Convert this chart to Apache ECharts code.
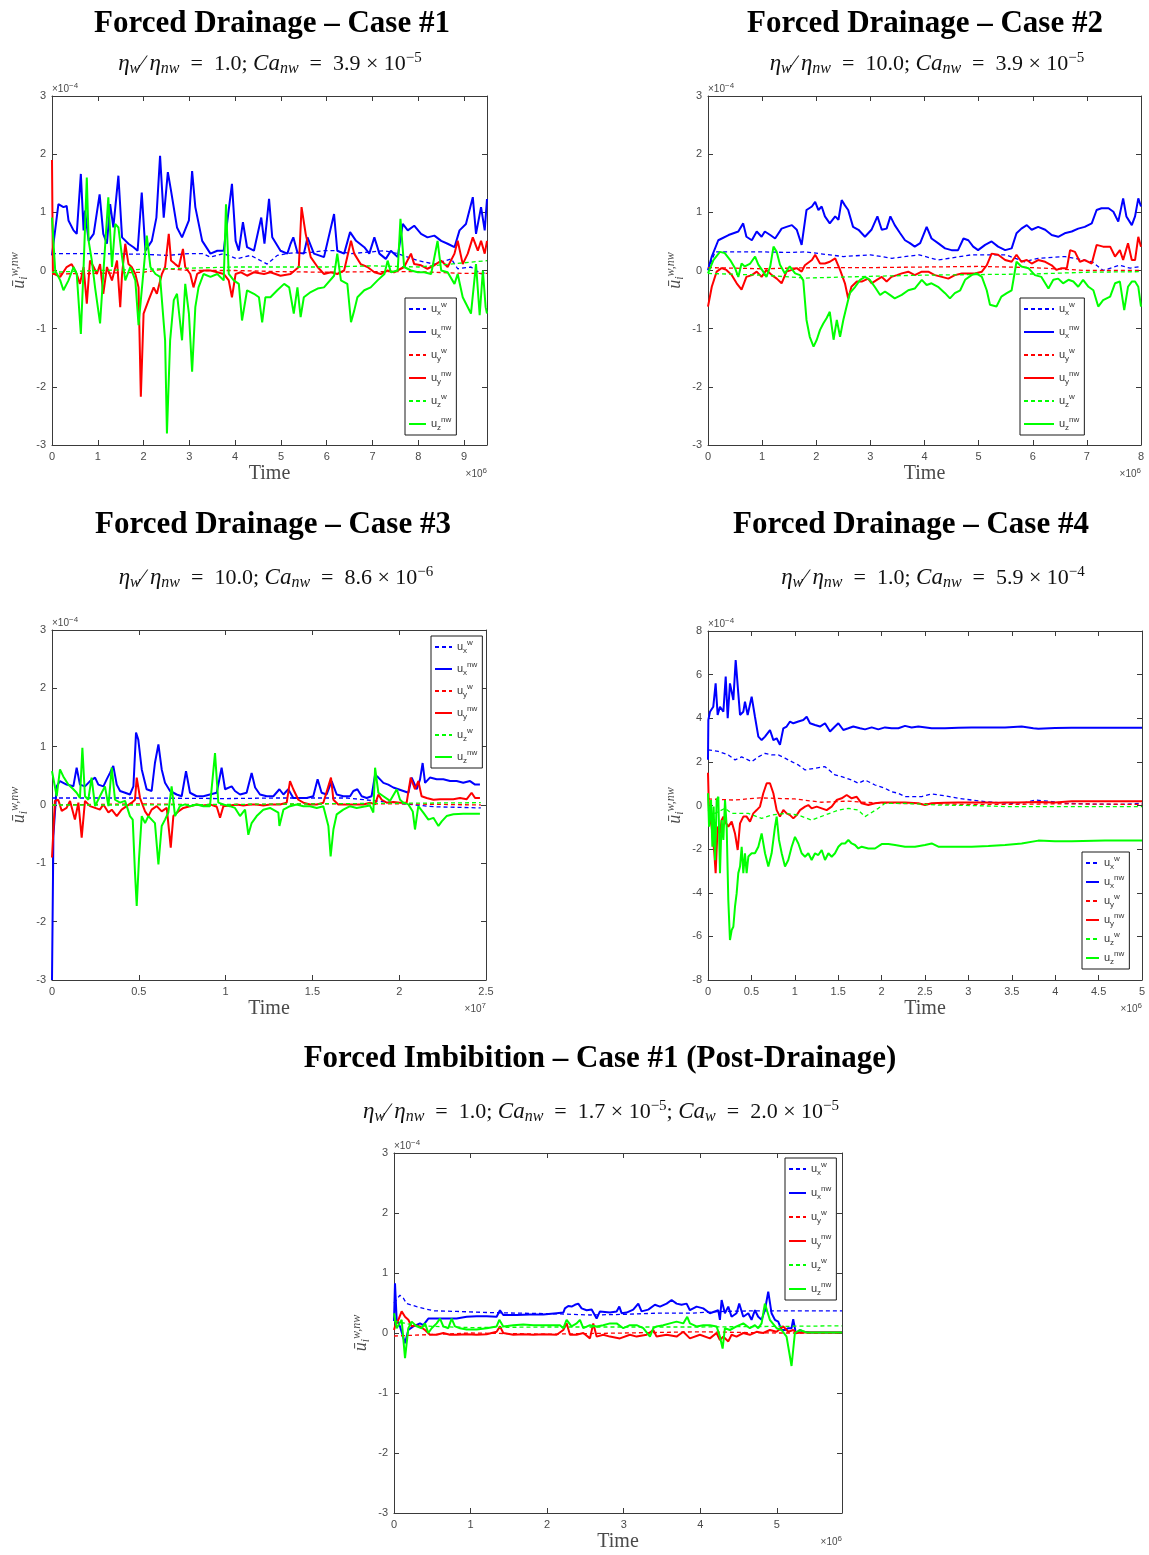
<!DOCTYPE html>
<html>
<head>
<meta charset="utf-8">
<title>Mean phase velocities</title>
<script src="https://cdn.jsdelivr.net/npm/echarts@6/dist/echarts.min.js"></script>
<style>
html, body { margin: 0; padding: 0; background: #ffffff; }
#chart { width: 1149px; height: 1555px; }
</style>
</head>
<body>
<div id="chart"></div>
<script>
// ---------------------------------------------------------------
// Mean velocity components of wetting (w) and non-wetting (nw)
// phases vs. time. Values in units of 1e-4; time in units of 1e6
// (Case #3 of drainage in units of 1e7).
// ---------------------------------------------------------------

// Tick values
const yTicksSmall = [-3, -2, -1, 0, 1, 2, 3];
const yTicksLarge = [-8, -6, -4, -2, 0, 2, 4, 6, 8];
const xTicksFD1 = [0, 1, 2, 3, 4, 5, 6, 7, 8, 9];
const xTicksFD2 = [0, 1, 2, 3, 4, 5, 6, 7, 8];
const xTicksFD3 = [0, 0.5, 1, 1.5, 2, 2.5];
const xTicksFD4 = [0, 0.5, 1, 1.5, 2, 2.5, 3, 3.5, 4, 4.5, 5];
const xTicksFI1 = [0, 1, 2, 3, 4, 5];
const xEndFD1 = 9.5;
const xEndFI1 = 5.85;

// ---------- Forced Drainage - Case #1 ----------
const fd1_uxw = [[0,0.29],[1.0,0.29],[2.0,0.28],[2.5,0.26],[3.0,0.29],[3.3,0.29],[3.46,0.23],[3.75,0.29],[4.04,0.2],[4.34,0.26],[4.7,0.11],[4.92,0.26],[5.21,0.3],[5.65,0.31],[5.94,0.34],[6.2,0.34],[6.53,0.29],[7.26,0.34],[7.55,0.29],[7.99,0.17],[8.35,0.11],[8.72,0.2],[8.86,0.03],[9.15,0.06],[9.37,-0.06],[9.5,-0.03]];
const fd1_uxnw = [[0,0.26],[0.03,0.29],[0.14,1.14],[0.25,1.09],[0.32,1.11],[0.36,0.86],[0.47,0.69],[0.54,0.63],[0.63,1.66],[0.69,0.69],[0.72,1.03],[0.80,0.51],[0.91,0.63],[1.04,1.31],[1.12,0.63],[1.20,0.46],[1.27,1.14],[1.34,0.74],[1.45,1.63],[1.53,0.57],[1.67,0.46],[1.78,0.40],[1.87,0.34],[1.96,1.34],[2.04,0.34],[2.18,0.51],[2.28,0.91],[2.36,1.97],[2.44,0.91],[2.53,1.69],[2.60,1.37],[2.73,0.74],[2.84,0.57],[2.99,0.86],[3.06,1.71],[3.13,1.09],[3.28,0.51],[3.46,0.29],[3.61,0.34],[3.75,0.34],[3.93,1.49],[4.01,0.51],[4.08,0.34],[4.17,0.83],[4.26,0.40],[4.41,0.34],[4.57,0.91],[4.64,0.46],[4.74,1.23],[4.81,0.57],[4.99,0.34],[5.14,0.29],[5.21,0.46],[5.27,0.57],[5.36,0.31],[5.50,0.29],[5.58,0.57],[5.72,0.29],[5.94,0.23],[6.16,0.97],[6.23,0.34],[6.38,0.29],[6.51,0.66],[6.64,0.51],[6.82,0.40],[6.93,0.29],[7.04,0.57],[7.15,0.29],[7.29,0.20],[7.40,0.34],[7.55,0.23],[7.66,0.80],[7.77,0.69],[7.91,0.77],[8.06,0.63],[8.20,0.57],[8.35,0.60],[8.50,0.51],[8.64,0.46],[8.79,0.40],[8.90,0.69],[9.04,0.80],[9.19,1.26],[9.26,0.63],[9.37,1.09],[9.45,0.69],[9.5,1.23]];
const fd1_uyw = [[0,-0.06],[1,-0.05],[2,-0.03],[2.5,0.03],[3,0.0],[4,0.0],[5,-0.02],[6,-0.03],[7,-0.02],[8,-0.02],[9,-0.05],[9.5,-0.05]];
const fd1_uynw = [[0,1.9],[0.02,-0.05],[0.03,-0.06],[0.18,-0.11],[0.32,0.06],[0.43,0.11],[0.54,-0.06],[0.61,-0.23],[0.69,0.06],[0.76,-0.57],[0.83,0.17],[0.91,0.06],[0.98,-0.06],[1.05,0.11],[1.12,-0.40],[1.20,0.06],[1.31,-0.17],[1.42,0.17],[1.49,-0.63],[1.53,-0.06],[1.60,0.46],[1.67,0.11],[1.74,0.06],[1.82,-0.06],[1.89,-0.29],[1.94,-2.17],[2.00,-0.74],[2.11,-0.51],[2.22,-0.29],[2.29,-0.40],[2.40,-0.06],[2.47,0.06],[2.55,0.63],[2.60,0.17],[2.69,0.11],[2.77,0.06],[2.86,0.37],[2.91,0.06],[3.02,-0.06],[3.09,-0.29],[3.17,-0.06],[3.31,0.0],[3.46,0.0],[3.61,-0.03],[3.75,-0.06],[3.86,-0.17],[3.93,-0.46],[4.01,-0.06],[4.12,-0.03],[4.26,-0.09],[4.41,-0.03],[4.63,-0.06],[4.77,-0.03],[4.99,-0.09],[5.21,-0.06],[5.39,0.06],[5.45,1.09],[5.54,0.63],[5.65,0.23],[5.80,0.06],[5.94,-0.06],[6.09,-0.03],[6.23,-0.06],[6.38,0.0],[6.53,0.51],[6.60,0.29],[6.74,0.11],[6.89,0.06],[7.04,-0.03],[7.18,-0.06],[7.33,0.0],[7.47,-0.03],[7.69,0.06],[7.84,0.29],[7.91,0.11],[8.06,0.09],[8.20,0.03],[8.35,0.09],[8.50,0.17],[8.64,0.06],[8.79,0.29],[8.86,0.51],[8.97,0.11],[9.08,0.29],[9.19,0.57],[9.30,0.34],[9.37,0.51],[9.45,0.29],[9.5,0.51]];
const fd1_uzw = [[0,-0.03],[1,0.0],[2,0.02],[3,0.04],[4,0.06],[5,0.06],[6,0.06],[7,0.08],[8,0.06],[8.7,0.11],[9.5,0.17]];
const fd1_uznw = [[0,0.91],[0.07,0.0],[0.18,-0.17],[0.25,-0.34],[0.36,-0.17],[0.47,0.06],[0.54,-0.06],[0.63,-1.09],[0.69,0.06],[0.76,1.60],[0.80,0.51],[0.87,0.17],[0.94,-0.29],[1.05,-0.91],[1.12,-0.06],[1.23,1.26],[1.31,0.06],[1.38,0.80],[1.45,0.74],[1.53,0.23],[1.60,-0.17],[1.71,0.06],[1.82,-0.17],[1.89,-0.94],[1.96,-0.34],[2.07,0.60],[2.15,0.06],[2.26,-0.06],[2.36,-0.11],[2.47,-1.20],[2.51,-2.80],[2.58,-1.20],[2.66,-0.51],[2.73,-0.40],[2.84,-1.20],[2.91,-0.23],[2.99,-0.74],[3.06,-1.74],[3.13,-0.63],[3.20,-0.29],[3.31,-0.06],[3.46,-0.11],[3.61,-0.06],[3.75,-0.17],[3.80,1.14],[3.86,-0.06],[3.97,-0.17],[4.08,-0.23],[4.15,-0.86],[4.26,-0.34],[4.41,-0.40],[4.52,-0.46],[4.59,-0.89],[4.66,-0.46],[4.77,-0.46],[4.92,-0.34],[5.07,-0.23],[5.18,-0.29],[5.28,-0.74],[5.36,-0.29],[5.43,-0.80],[5.50,-0.46],[5.65,-0.37],[5.80,-0.31],[5.94,-0.29],[6.16,-0.09],[6.23,0.29],[6.31,-0.17],[6.45,-0.23],[6.53,-0.89],[6.60,-0.69],[6.67,-0.46],[6.82,-0.34],[6.96,-0.29],[7.11,-0.17],[7.26,-0.06],[7.33,0.17],[7.40,-0.03],[7.55,0.0],[7.61,0.89],[7.69,0.06],[7.84,0.0],[7.99,-0.03],[8.13,-0.03],[8.28,-0.06],[8.42,0.51],[8.50,0.0],[8.64,-0.03],[8.79,-0.23],[8.86,-0.06],[8.97,-0.46],[9.15,-0.74],[9.26,0.11],[9.34,-0.77],[9.41,0.0],[9.47,-0.63],[9.5,-0.74]];

// ---------- Forced Drainage - Case #2 ----------
const fd2_uxw = [[0,0.0],[0.13,0.32],[0.5,0.32],[1.0,0.32],[1.5,0.31],[1.8,0.32],[2.5,0.24],[3.0,0.27],[3.4,0.21],[3.9,0.27],[4.25,0.18],[4.87,0.27],[5.5,0.27],[5.85,0.15],[6.1,0.21],[6.6,0.24],[7.1,0.15],[7.3,0.0],[7.6,0.09],[7.8,0.04],[8.0,0.07]];
const fd2_uxnw = [[0,0.01],[0.07,0.24],[0.19,0.52],[0.38,0.61],[0.56,0.67],[0.65,0.81],[0.71,0.58],[0.81,0.52],[0.90,0.67],[0.99,0.58],[1.05,0.67],[1.15,0.61],[1.24,0.55],[1.36,0.72],[1.45,0.75],[1.55,0.78],[1.64,0.70],[1.73,0.44],[1.82,1.04],[1.92,1.10],[1.98,1.18],[2.04,1.04],[2.10,1.10],[2.16,0.93],[2.25,0.81],[2.35,0.93],[2.41,0.87],[2.47,1.21],[2.53,1.12],[2.59,1.04],[2.68,0.75],[2.78,0.70],[2.90,0.58],[3.02,0.70],[3.13,0.93],[3.21,0.70],[3.30,0.72],[3.37,0.93],[3.45,0.78],[3.55,0.64],[3.64,0.52],[3.73,0.47],[3.82,0.41],[3.92,0.47],[4.04,0.75],[4.13,0.55],[4.25,0.47],[4.38,0.38],[4.50,0.35],[4.62,0.35],[4.72,0.55],[4.81,0.52],[4.90,0.41],[4.99,0.35],[5.12,0.44],[5.24,0.50],[5.36,0.41],[5.49,0.35],[5.61,0.38],[5.70,0.64],[5.79,0.72],[5.89,0.78],[5.98,0.70],[6.10,0.75],[6.23,0.70],[6.35,0.61],[6.47,0.58],[6.59,0.64],[6.72,0.67],[6.84,0.72],[6.96,0.75],[7.09,0.81],[7.18,1.04],[7.27,1.07],[7.40,1.07],[7.49,1.01],[7.58,0.84],[7.67,1.24],[7.73,0.93],[7.83,0.78],[7.89,0.93],[7.95,1.24],[8.0,1.10]];
const fd2_uyw = [[0,0.05],[1,0.03],[2,0.05],[3,0.05],[4,0.06],[5,0.07],[6,0.05],[7,0.0],[8,0.0]];
const fd2_uynw = [[0,-0.62],[0.07,-0.28],[0.16,-0.02],[0.25,0.04],[0.34,0.01],[0.44,-0.08],[0.53,-0.22],[0.62,-0.33],[0.71,-0.11],[0.81,-0.08],[0.90,-0.02],[0.99,-0.11],[1.08,0.01],[1.18,-0.08],[1.27,-0.14],[1.36,-0.22],[1.45,-0.02],[1.55,0.01],[1.64,0.04],[1.73,-0.02],[1.79,0.09],[1.92,0.18],[1.98,0.27],[2.07,0.12],[2.16,0.12],[2.25,0.15],[2.35,0.21],[2.44,0.01],[2.53,-0.22],[2.59,-0.48],[2.65,-0.28],[2.75,-0.19],[2.84,-0.19],[2.96,-0.14],[3.02,-0.22],[3.12,-0.16],[3.21,-0.11],[3.30,-0.19],[3.39,-0.11],[3.49,-0.08],[3.58,-0.05],[3.70,-0.02],[3.82,-0.08],[3.95,-0.02],[4.07,-0.02],[4.19,-0.08],[4.32,-0.11],[4.44,-0.14],[4.56,-0.08],[4.69,-0.05],[4.81,-0.05],[4.93,-0.05],[5.06,-0.02],[5.15,0.09],[5.24,0.29],[5.36,0.27],[5.49,0.18],[5.61,0.15],[5.70,0.27],[5.79,0.15],[5.89,0.18],[5.98,0.12],[6.10,0.18],[6.23,0.15],[6.35,0.09],[6.44,0.01],[6.53,0.04],[6.63,0.04],[6.69,0.35],[6.78,0.32],[6.87,0.15],[6.96,0.18],[7.09,0.12],[7.18,0.44],[7.30,0.41],[7.43,0.41],[7.52,0.24],[7.61,0.35],[7.67,0.18],[7.76,0.47],[7.83,0.18],[7.89,0.18],[7.95,0.58],[8.0,0.41]];
const fd2_uzw = [[0,-0.05],[1,-0.08],[1.8,-0.13],[3,-0.1],[4,-0.08],[5,-0.07],[6,-0.06],[7,-0.03],[8,-0.02]];
const fd2_uznw = [[0,-0.05],[0.10,0.18],[0.22,0.32],[0.31,0.30],[0.41,0.18],[0.50,0.04],[0.56,-0.11],[0.62,0.12],[0.68,0.07],[0.78,0.12],[0.87,0.24],[0.93,0.10],[1.02,-0.02],[1.08,-0.11],[1.15,0.07],[1.21,0.41],[1.27,0.32],[1.33,0.10],[1.42,-0.05],[1.51,0.07],[1.61,-0.05],[1.70,-0.08],[1.76,-0.17],[1.82,-0.85],[1.88,-1.14],[1.95,-1.31],[2.01,-1.19],[2.07,-1.02],[2.13,-0.91],[2.19,-0.82],[2.25,-0.71],[2.32,-1.19],[2.38,-0.85],[2.44,-1.14],[2.50,-0.85],[2.56,-0.62],[2.62,-0.39],[2.72,-0.28],[2.81,-0.16],[2.90,-0.11],[2.99,-0.16],[3.08,-0.28],[3.18,-0.42],[3.27,-0.36],[3.36,-0.42],[3.45,-0.48],[3.58,-0.42],[3.70,-0.34],[3.82,-0.31],[3.95,-0.16],[4.04,-0.25],[4.13,-0.22],[4.25,-0.28],[4.38,-0.39],[4.47,-0.48],[4.56,-0.39],[4.66,-0.34],[4.75,-0.16],[4.87,-0.08],[4.96,-0.05],[5.06,-0.11],[5.15,-0.34],[5.21,-0.59],[5.33,-0.62],[5.42,-0.45],[5.52,-0.39],[5.61,-0.34],[5.70,0.15],[5.79,0.07],[5.92,0.04],[6.04,-0.08],[6.16,-0.11],[6.29,-0.31],[6.38,-0.16],[6.47,-0.14],[6.56,-0.22],[6.66,-0.16],[6.75,-0.19],[6.84,-0.28],[6.93,-0.16],[7.03,-0.28],[7.12,-0.34],[7.21,-0.62],[7.30,-0.51],[7.43,-0.45],[7.52,-0.22],[7.61,-0.19],[7.69,-0.68],[7.76,-0.28],[7.83,-0.19],[7.89,-0.19],[7.95,-0.28],[8.0,-0.62]];

// ---------- Forced Drainage - Case #3 (time in 1e7) ----------
const fd3_uxw = [[0,0.12],[0.5,0.12],[1.0,0.11],[1.3,0.12],[1.7,0.12],[1.9,0.06],[2.06,0.01],[2.2,-0.03],[2.47,-0.05]];
const fd3_uxnw = [[0,-3.0],[0.008,-0.53],[0.027,0.32],[0.046,0.41],[0.084,0.35],[0.123,0.32],[0.142,0.64],[0.161,0.35],[0.190,0.32],[0.219,0.41],[0.248,0.47],[0.267,0.35],[0.296,0.32],[0.315,0.44],[0.334,0.55],[0.353,0.67],[0.373,0.35],[0.392,0.24],[0.421,0.21],[0.449,0.18],[0.469,0.32],[0.484,1.24],[0.497,1.12],[0.517,0.61],[0.545,0.27],[0.574,0.24],[0.593,0.72],[0.613,1.04],[0.632,0.61],[0.651,0.38],[0.680,0.24],[0.718,0.18],[0.747,0.15],[0.772,0.58],[0.795,0.21],[0.833,0.15],[0.872,0.15],[0.910,0.18],[0.949,0.21],[0.977,0.64],[0.997,0.27],[1.035,0.32],[1.054,0.24],[1.083,0.18],[1.121,0.21],[1.150,0.55],[1.170,0.30],[1.198,0.18],[1.237,0.15],[1.275,0.15],[1.310,0.27],[1.333,0.18],[1.361,0.27],[1.390,0.12],[1.429,0.12],[1.467,0.12],[1.505,0.15],[1.530,0.44],[1.553,0.21],[1.582,0.18],[1.611,0.41],[1.640,0.18],[1.678,0.15],[1.717,0.15],[1.736,0.24],[1.759,0.27],[1.784,0.15],[1.813,0.12],[1.841,0.15],[1.861,0.52],[1.880,0.47],[1.909,0.38],[1.937,0.35],[1.966,0.30],[1.995,0.27],[2.024,0.24],[2.053,0.21],[2.072,0.47],[2.101,0.27],[2.120,0.44],[2.135,0.72],[2.149,0.38],[2.177,0.47],[2.216,0.44],[2.254,0.44],[2.293,0.41],[2.331,0.41],[2.369,0.38],[2.408,0.41],[2.437,0.35],[2.465,0.35]];
const fd3_uyw = [[0,0.0],[0.5,0.02],[1.0,0.0],[1.5,0.02],[2.0,0.02],[2.47,0.0]];
const fd3_uynw = [[0,-0.9],[0.017,0.07],[0.036,0.09],[0.056,-0.10],[0.084,-0.05],[0.104,0.07],[0.132,-0.25],[0.152,0.04],[0.171,-0.56],[0.190,0.07],[0.219,-0.02],[0.248,-0.05],[0.276,-0.08],[0.296,0.01],[0.325,-0.13],[0.344,-0.08],[0.373,-0.19],[0.401,-0.08],[0.430,-0.02],[0.459,0.04],[0.478,0.09],[0.488,0.47],[0.507,0.12],[0.536,-0.11],[0.555,-0.19],[0.574,-0.08],[0.603,-0.02],[0.632,-0.11],[0.661,-0.05],[0.684,-0.73],[0.699,-0.19],[0.728,-0.11],[0.757,-0.05],[0.795,-0.02],[0.833,0.01],[0.872,-0.01],[0.910,0.01],[0.949,-0.03],[0.968,-0.22],[0.987,-0.02],[1.025,-0.01],[1.064,0.01],[1.102,-0.01],[1.141,0.01],[1.179,0.01],[1.217,-0.01],[1.256,0.01],[1.313,0.01],[1.352,0.04],[1.371,0.41],[1.390,0.27],[1.419,0.09],[1.448,0.04],[1.486,0.01],[1.525,0.01],[1.563,0.04],[1.607,0.47],[1.621,0.09],[1.649,0.01],[1.678,0.01],[1.717,0.01],[1.755,0.01],[1.793,0.01],[1.832,0.04],[1.861,0.01],[1.880,0.18],[1.899,0.09],[1.928,0.04],[1.966,0.05],[2.005,0.04],[2.043,0.04],[2.066,0.47],[2.091,0.27],[2.110,0.41],[2.129,0.15],[2.158,0.12],[2.197,0.09],[2.235,0.10],[2.273,0.10],[2.312,0.10],[2.350,0.12],[2.389,0.10],[2.417,0.21],[2.437,0.12],[2.465,0.12]];
const fd3_uzw = [[0,0.0],[0.5,0.0],[1.0,0.01],[1.5,0.02],[2.0,0.03],[2.47,0.04]];
const fd3_uznw = [[0,0.58],[0.027,0.15],[0.046,0.61],[0.065,0.49],[0.094,0.35],[0.123,0.27],[0.142,0.21],[0.161,0.12],[0.175,0.98],[0.190,0.15],[0.209,0.09],[0.228,0.47],[0.248,-0.02],[0.276,0.15],[0.305,0.32],[0.325,-0.02],[0.344,0.64],[0.363,0.09],[0.392,0.04],[0.421,0.07],[0.449,-0.19],[0.465,-0.25],[0.478,-1.16],[0.488,-1.73],[0.501,-0.93],[0.517,-0.19],[0.536,-0.31],[0.555,-0.19],[0.574,-0.25],[0.593,-0.31],[0.613,-1.02],[0.632,-0.36],[0.651,-0.25],[0.670,-0.13],[0.689,0.32],[0.709,-0.19],[0.737,-0.02],[0.766,0.01],[0.795,-0.02],[0.833,0.01],[0.872,-0.02],[0.910,-0.02],[0.939,0.89],[0.958,0.04],[0.987,0.01],[1.025,-0.02],[1.054,-0.05],[1.083,-0.19],[1.112,-0.08],[1.131,-0.51],[1.150,-0.31],[1.179,-0.19],[1.217,-0.08],[1.256,-0.05],[1.304,-0.13],[1.310,-0.36],[1.333,-0.08],[1.371,-0.02],[1.409,0.01],[1.448,-0.02],[1.486,-0.02],[1.525,-0.05],[1.563,-0.02],[1.592,-0.36],[1.605,-0.88],[1.621,-0.42],[1.640,-0.16],[1.678,-0.08],[1.717,-0.02],[1.755,-0.05],[1.793,-0.03],[1.832,-0.01],[1.851,-0.13],[1.861,0.64],[1.880,0.21],[1.909,0.15],[1.947,0.07],[1.986,0.27],[2.005,0.09],[2.024,0.04],[2.053,0.01],[2.078,-0.11],[2.091,-0.42],[2.110,-0.02],[2.139,-0.13],[2.168,-0.25],[2.197,-0.22],[2.226,-0.36],[2.245,-0.28],[2.273,-0.19],[2.312,-0.16],[2.369,-0.15],[2.427,-0.15],[2.465,-0.15]];

// ---------- Forced Drainage - Case #4 ----------
const fd4_uxw = [[0,2.55],[0.119,2.48],[0.234,2.32],[0.311,2.09],[0.388,2.23],[0.503,2.01],[0.580,2.23],[0.657,2.39],[0.733,2.32],[0.810,2.32],[0.887,2.17],[0.964,2.01],[1.041,1.86],[1.118,1.63],[1.233,1.71],[1.348,1.78],[1.463,1.40],[1.540,1.32],[1.655,1.17],[1.732,1.02],[1.809,1.17],[1.924,0.94],[2.039,0.79],[2.116,0.63],[2.193,0.56],[2.270,0.41],[2.385,0.41],[2.462,0.41],[2.577,0.53],[2.730,0.44],[2.884,0.33],[3.038,0.25],[3.191,0.18],[3.345,0.13],[3.499,0.10],[3.652,0.13],[3.767,0.25],[3.959,0.18],[4.113,0.10],[4.382,0.07],[4.766,0.05],[5.0,0.10]];
const fd4_uxnw = [[0,2.1],[0.004,3.92],[0.023,4.30],[0.061,4.53],[0.088,5.60],[0.111,4.15],[0.138,4.53],[0.177,4.30],[0.204,5.91],[0.227,4.00],[0.253,5.60],[0.292,4.84],[0.319,6.67],[0.349,5.14],[0.369,4.15],[0.407,4.30],[0.426,4.76],[0.457,4.15],[0.503,4.99],[0.541,4.07],[0.580,3.16],[0.618,3.00],[0.657,3.16],[0.714,3.46],[0.753,3.00],[0.791,3.08],[0.829,2.78],[0.868,3.54],[0.906,3.62],[0.945,3.85],[0.983,3.77],[1.041,3.85],[1.098,3.92],[1.137,4.07],[1.175,3.77],[1.233,3.69],[1.290,3.62],[1.348,3.77],[1.406,3.39],[1.463,3.62],[1.502,3.77],[1.559,3.46],[1.617,3.54],[1.674,3.62],[1.751,3.54],[1.809,3.49],[1.886,3.58],[1.962,3.49],[2.039,3.58],[2.116,3.54],[2.193,3.54],[2.270,3.65],[2.346,3.58],[2.423,3.62],[2.577,3.54],[2.730,3.54],[2.884,3.57],[3.038,3.58],[3.230,3.58],[3.422,3.58],[3.614,3.62],[3.748,3.54],[3.806,3.52],[3.998,3.55],[4.190,3.57],[4.382,3.57],[4.574,3.57],[4.766,3.57],[5.0,3.57]];
const fd4_uyw = [[0,0.3],[0.3,0.25],[0.6,0.35],[1.0,0.3],[1.3,0.15],[1.6,0.2],[2.0,0.1],[2.5,0.08],[3.0,0.05],[3.5,0.05],[4.0,0.08],[5.0,0.05]];
const fd4_uynw = [[0,1.5],[0.012,-0.36],[0.042,-0.97],[0.073,-2.17],[0.088,-3.10],[0.111,-0.97],[0.138,-1.28],[0.157,-0.67],[0.177,-0.51],[0.196,-0.74],[0.234,-0.97],[0.273,-0.74],[0.311,-1.28],[0.342,-2.04],[0.369,-0.82],[0.407,-0.51],[0.445,-0.51],[0.484,-0.74],[0.522,-0.36],[0.561,-0.21],[0.599,-0.05],[0.637,0.56],[0.676,1.02],[0.714,1.02],[0.753,0.56],[0.791,-0.21],[0.829,-0.51],[0.868,-0.21],[0.906,-0.36],[0.945,-0.44],[0.983,-0.59],[1.022,-0.44],[1.060,-0.21],[1.118,-0.05],[1.156,0.02],[1.194,-0.13],[1.252,-0.05],[1.310,-0.13],[1.367,-0.21],[1.425,-0.05],[1.482,0.25],[1.540,0.33],[1.598,0.48],[1.655,0.33],[1.713,0.40],[1.770,0.10],[1.847,0.02],[1.924,0.10],[2.001,0.14],[2.116,0.14],[2.270,0.14],[2.423,0.10],[2.500,0.02],[2.577,0.10],[2.730,0.13],[2.884,0.14],[3.038,0.14],[3.191,0.14],[3.345,0.13],[3.422,0.14],[3.576,0.14],[3.806,0.16],[3.998,0.14],[4.190,0.19],[4.574,0.19],[5.0,0.19]];
const fd4_uzw = [[0,-0.2],[0.081,-0.36],[0.196,-0.13],[0.273,-0.36],[0.465,-0.36],[0.618,-0.59],[0.733,-0.44],[0.887,-0.36],[1.041,-0.44],[1.194,-0.67],[1.348,-0.44],[1.502,-0.21],[1.617,-0.13],[1.732,-0.21],[1.809,-0.51],[1.962,-0.13],[2.039,0.10],[2.270,0.10],[2.654,0.02],[3.038,0.0],[3.422,-0.05],[3.806,-0.05],[5.0,-0.05]];
const fd4_uznw = [[0,0.56],[0.012,-0.97],[0.035,0.25],[0.050,-1.89],[0.065,-0.05],[0.081,-2.51],[0.100,0.25],[0.119,0.40],[0.138,-3.10],[0.157,-0.67],[0.177,-1.58],[0.196,0.25],[0.215,-0.97],[0.234,-4.33],[0.253,-6.17],[0.273,-5.71],[0.292,-5.56],[0.311,-4.64],[0.330,-4.03],[0.349,-3.10],[0.369,-2.80],[0.388,-1.89],[0.407,-3.10],[0.426,-2.19],[0.445,-3.10],[0.465,-2.34],[0.503,-2.19],[0.541,-2.19],[0.580,-1.89],[0.618,-1.28],[0.657,-2.19],[0.695,-2.80],[0.733,-2.19],[0.772,-0.97],[0.791,-0.51],[0.818,-1.58],[0.849,-2.19],[0.887,-2.80],[0.925,-2.50],[0.964,-1.89],[1.002,-1.44],[1.041,-1.74],[1.079,-2.19],[1.118,-2.35],[1.156,-2.19],[1.194,-2.50],[1.233,-2.19],[1.271,-2.27],[1.310,-2.04],[1.348,-2.50],[1.387,-2.19],[1.425,-2.35],[1.463,-2.19],[1.502,-1.89],[1.540,-1.74],[1.579,-1.74],[1.617,-1.58],[1.655,-1.74],[1.694,-1.81],[1.732,-1.97],[1.771,-1.89],[1.847,-1.97],[1.924,-1.97],[2.001,-1.77],[2.078,-1.77],[2.155,-1.81],[2.270,-1.89],[2.385,-1.89],[2.500,-1.81],[2.577,-1.74],[2.654,-1.89],[2.846,-1.89],[3.038,-1.89],[3.230,-1.86],[3.422,-1.81],[3.614,-1.74],[3.806,-1.61],[3.998,-1.64],[4.190,-1.64],[4.574,-1.61],[5.0,-1.61]];

// ---------- Forced Imbibition - Case #1 ----------
const fi1_uxw = [[0,0.5],[0.078,0.63],[0.122,0.58],[0.165,0.49],[0.296,0.44],[0.513,0.37],[0.818,0.36],[1.253,0.34],[1.688,0.33],[2.124,0.32],[2.559,0.30],[2.994,0.31],[3.429,0.33],[3.864,0.33],[4.299,0.36],[4.734,0.37],[5.170,0.37],[5.85,0.37]];
const fi1_uxnw = [[0,0.2],[0.013,0.83],[0.035,0.22],[0.078,0.11],[0.144,-0.17],[0.187,0.05],[0.252,0.11],[0.339,0.16],[0.383,0.13],[0.448,0.24],[0.513,0.24],[0.644,0.24],[0.818,0.24],[0.949,0.27],[1.079,0.28],[1.210,0.28],[1.340,0.27],[1.384,0.38],[1.427,0.30],[1.601,0.30],[1.775,0.31],[1.950,0.31],[2.124,0.33],[2.211,0.34],[2.232,0.41],[2.276,0.45],[2.319,0.44],[2.363,0.47],[2.406,0.49],[2.450,0.41],[2.515,0.38],[2.581,0.39],[2.646,0.24],[2.689,0.36],[2.820,0.34],[2.907,0.36],[2.942,0.44],[2.972,0.33],[3.037,0.34],[3.124,0.39],[3.190,0.49],[3.233,0.36],[3.320,0.39],[3.407,0.47],[3.473,0.44],[3.560,0.49],[3.625,0.55],[3.690,0.49],[3.755,0.47],[3.821,0.49],[3.864,0.38],[3.951,0.44],[4.038,0.41],[4.125,0.33],[4.234,0.38],[4.256,0.22],[4.278,0.55],[4.321,0.33],[4.365,0.44],[4.408,0.27],[4.473,0.33],[4.508,0.49],[4.561,0.27],[4.626,0.33],[4.669,0.22],[4.713,0.38],[4.756,0.27],[4.800,0.22],[4.843,0.38],[4.887,0.69],[4.930,0.33],[4.974,0.22],[5.017,0.19],[5.061,0.05],[5.104,0.05],[5.148,0.08],[5.191,0.08],[5.213,0.23],[5.248,-0.01],[5.300,0.05],[5.344,0.02],[5.431,0.01],[5.605,0.01],[5.85,0.01]];
const fi1_uyw = [[0,-0.05],[1,0.0],[2,-0.02],[3,0.0],[4,0.02],[5,0.0],[5.85,0.0]];
const fi1_uynw = [[0,0.05],[0.013,0.11],[0.057,0.22],[0.100,0.36],[0.144,0.27],[0.187,0.22],[0.231,0.11],[0.274,0.13],[0.339,0.11],[0.405,0.05],[0.470,-0.03],[0.557,-0.03],[0.644,0.0],[0.731,-0.03],[0.818,-0.03],[0.949,-0.02],[1.079,-0.03],[1.210,-0.02],[1.340,0.02],[1.384,0.11],[1.427,0.0],[1.558,-0.03],[1.688,-0.02],[1.819,-0.03],[1.950,-0.02],[2.124,-0.03],[2.211,0.05],[2.254,0.16],[2.298,-0.03],[2.385,-0.03],[2.472,0.0],[2.559,-0.09],[2.602,0.16],[2.646,-0.06],[2.733,-0.03],[2.820,-0.06],[2.950,-0.09],[3.081,-0.03],[3.168,-0.06],[3.299,-0.03],[3.386,0.05],[3.429,-0.06],[3.560,-0.03],[3.690,-0.06],[3.777,0.02],[3.864,-0.09],[3.995,-0.03],[4.125,-0.09],[4.212,0.0],[4.256,-0.12],[4.299,-0.06],[4.365,-0.14],[4.408,-0.03],[4.473,-0.06],[4.561,0.0],[4.647,-0.03],[4.734,0.02],[4.821,0.0],[4.908,0.05],[4.996,0.02],[5.083,0.11],[5.148,0.02],[5.213,0.05],[5.257,0.0],[5.344,0.01],[5.605,0.01],[5.85,0.01]];
const fi1_uzw = [[0,0.2],[0.3,0.12],[1,0.09],[2,0.1],[3,0.1],[4,0.1],[5,0.11],[5.85,0.12]];
const fi1_uznw = [[0,0.33],[0.035,0.08],[0.100,0.22],[0.144,-0.42],[0.187,0.08],[0.231,0.19],[0.296,0.11],[0.361,0.08],[0.405,0.16],[0.448,0.0],[0.492,0.08],[0.557,0.16],[0.601,0.24],[0.644,0.11],[0.709,0.08],[0.753,0.24],[0.796,0.11],[0.862,0.08],[0.949,0.06],[1.079,0.06],[1.210,0.08],[1.340,0.11],[1.375,0.22],[1.427,0.11],[1.558,0.13],[1.688,0.14],[1.819,0.13],[1.950,0.13],[2.080,0.13],[2.167,0.13],[2.211,0.08],[2.254,0.22],[2.319,0.11],[2.385,0.16],[2.428,0.22],[2.472,0.08],[2.559,0.13],[2.646,0.11],[2.733,0.13],[2.820,0.16],[2.907,0.16],[2.994,0.08],[3.081,0.13],[3.168,0.13],[3.255,0.08],[3.342,-0.06],[3.386,0.08],[3.429,0.11],[3.516,0.13],[3.603,0.16],[3.690,0.19],[3.777,0.16],[3.829,0.27],[3.864,0.16],[3.951,0.11],[4.038,0.13],[4.125,0.13],[4.212,0.11],[4.256,-0.06],[4.291,-0.26],[4.321,0.08],[4.386,0.05],[4.473,0.11],[4.561,0.16],[4.647,0.08],[4.713,0.13],[4.756,0.08],[4.800,0.16],[4.843,0.49],[4.908,0.22],[4.996,0.08],[5.061,0.05],[5.126,-0.06],[5.191,-0.55],[5.235,0.0],[5.300,0.05],[5.387,0.01],[5.605,0.01],[5.85,0.01]];

// ---------------------------------------------------------------
// Styling
// ---------------------------------------------------------------
const AXIS_COLOR = '#3a3a3a';
const LABEL_COLOR = '#4a4a4a';
const SERIF = '"Liberation Serif", "Times New Roman", serif';
const SANS = '"Liberation Sans", Arial, sans-serif';

const seriesMeta = [
  { key: 'uxw',  color: '#0000ff', dashed: true,  label: '{b|u}{sub|x}{sup|w}' },
  { key: 'uxnw', color: '#0000ff', dashed: false, label: '{b|u}{sub|x}{sup|nw}' },
  { key: 'uyw',  color: '#ff0000', dashed: true,  label: '{b|u}{sub|y}{sup|w}' },
  { key: 'uynw', color: '#ff0000', dashed: false, label: '{b|u}{sub|y}{sup|nw}' },
  { key: 'uzw',  color: '#00ff00', dashed: true,  label: '{b|u}{sub|z}{sup|w}' },
  { key: 'uznw', color: '#00ff00', dashed: false, label: '{b|u}{sub|z}{sup|nw}' }
];
const labelByKey = {};
seriesMeta.forEach(m => { labelByKey[m.key] = m.label; });

const panels = [
  { id: 'fd1', grid: { left: 52, top: 96, width: 435, height: 349 },
    xTicks: xTicksFD1, xMax: xEndFD1, yTicks: yTicksSmall,
    data: [fd1_uxw, fd1_uxnw, fd1_uyw, fd1_uynw, fd1_uzw, fd1_uznw],
    legend: { left: 405, top: 298, itemWidth: 17, itemGap: 7 }, xExp: '6' },
  { id: 'fd2', grid: { left: 708, top: 96, width: 433, height: 349 },
    xTicks: xTicksFD2, xMax: 8, yTicks: yTicksSmall,
    data: [fd2_uxw, fd2_uxnw, fd2_uyw, fd2_uynw, fd2_uzw, fd2_uznw],
    legend: { left: 1020, top: 298, itemWidth: 30, itemGap: 7 }, xExp: '6' },
  { id: 'fd3', grid: { left: 52, top: 630, width: 434, height: 350 },
    xTicks: xTicksFD3, xMax: 2.5, yTicks: yTicksSmall,
    data: [fd3_uxw, fd3_uxnw, fd3_uyw, fd3_uynw, fd3_uzw, fd3_uznw],
    legend: { left: 431, top: 636, itemWidth: 17, itemGap: 6 }, xExp: '7' },
  { id: 'fd4', grid: { left: 708, top: 631, width: 434, height: 349 },
    xTicks: xTicksFD4, xMax: 5, yTicks: yTicksLarge,
    data: [fd4_uxw, fd4_uxnw, fd4_uyw, fd4_uynw, fd4_uzw, fd4_uznw],
    legend: { left: 1082, top: 852, itemWidth: 13, itemGap: 3 }, xExp: '6' },
  { id: 'fi1', grid: { left: 394, top: 1153, width: 448, height: 360 },
    xTicks: xTicksFI1, xMax: xEndFI1, yTicks: yTicksSmall,
    data: [fi1_uxw, fi1_uxnw, fi1_uyw, fi1_uynw, fi1_uzw, fi1_uznw],
    legend: { left: 785, top: 1158, itemWidth: 17, itemGap: 8 }, xExp: '6' }
];

// Headings and parameter lines
const subRich = {
  i: { fontFamily: SERIF, fontStyle: 'italic', fontWeight: 'normal', fontSize: 23, color: '#111' },
  n: { fontFamily: SERIF, fontWeight: 'normal', fontSize: 22, color: '#111' },
  s: { fontFamily: SERIF, fontStyle: 'italic', fontWeight: 'normal', fontSize: 16, color: '#111', padding: [10, 0, 0, 0] },
  p: { fontFamily: SERIF, fontWeight: 'normal', fontSize: 15, color: '#111', padding: [0, 0, 11, 0] }
};
const EQ = '\u2002=\u2002';
const headings = [
  { text: 'Forced Drainage \u2013 Case #1', x: 272, y: 24 },
  { text: 'Forced Drainage \u2013 Case #2', x: 925, y: 24 },
  { text: 'Forced Drainage \u2013 Case #3', x: 273, y: 525 },
  { text: 'Forced Drainage \u2013 Case #4', x: 911, y: 525 },
  { text: 'Forced Imbibition \u2013 Case #1 (Post-Drainage)', x: 600, y: 1059 }
];
const paramLines = [
  { text: '{i|\u03b7}{s|w}{n|\u2215 }{i|\u03b7}{s|nw}{n|' + EQ + '1.0; }{i|Ca}{s|nw}{n|' + EQ + '3.9 \u00d7 10}{p|\u22125}', x: 270, y: 64 },
  { text: '{i|\u03b7}{s|w}{n|\u2215 }{i|\u03b7}{s|nw}{n|' + EQ + '10.0; }{i|Ca}{s|nw}{n|' + EQ + '3.9 \u00d7 10}{p|\u22125}', x: 927, y: 64 },
  { text: '{i|\u03b7}{s|w}{n|\u2215 }{i|\u03b7}{s|nw}{n|' + EQ + '10.0; }{i|Ca}{s|nw}{n|' + EQ + '8.6 \u00d7 10}{p|\u22126}', x: 276, y: 578 },
  { text: '{i|\u03b7}{s|w}{n|\u2215 }{i|\u03b7}{s|nw}{n|' + EQ + '1.0; }{i|Ca}{s|nw}{n|' + EQ + '5.9 \u00d7 10}{p|\u22124}', x: 933, y: 578 },
  { text: '{i|\u03b7}{s|w}{n|\u2215 }{i|\u03b7}{s|nw}{n|' + EQ + '1.0; }{i|Ca}{s|nw}{n|' + EQ + '1.7 \u00d7 10}{p|\u22125}{n|; }{i|Ca}{s|w}{n|' + EQ + '2.0 \u00d7 10}{p|\u22125}', x: 601, y: 1112 }
];

const titles = [];
headings.forEach(h => titles.push({
  text: h.text, left: h.x, top: h.y, textAlign: 'center', textVerticalAlign: 'middle', padding: 0,
  textStyle: { fontFamily: SERIF, fontWeight: 'bold', fontSize: 31, color: '#000' }
}));
paramLines.forEach(p => titles.push({
  text: p.text, left: p.x, top: p.y, textAlign: 'center', textVerticalAlign: 'middle', padding: 0,
  textStyle: { fontSize: 22, fontWeight: 'normal', rich: subRich }
}));

const expRich = {
  m: { fontFamily: SANS, fontSize: 10, fontWeight: 'normal', color: LABEL_COLOR },
  e: { fontFamily: SANS, fontSize: 8, fontWeight: 'normal', color: LABEL_COLOR, padding: [0, 0, 7, 0] }
};

const grids = [], xAxes = [], yAxes = [], series = [], legends = [];
const axisLineStyle = { color: AXIS_COLOR, width: 1 };

panels.forEach((p, i) => {
  const g = p.grid;
  grids.push({ left: g.left, top: g.top, width: g.width, height: g.height, outerBoundsMode: 'none', containLabel: false });

  const xRange = { min: p.xTicks[0], max: p.xMax, interval: p.xTicks[1] - p.xTicks[0] };
  const yRange = { min: p.yTicks[0], max: p.yTicks[p.yTicks.length - 1], interval: p.yTicks[1] - p.yTicks[0] };

  xAxes.push({
    type: 'value', gridIndex: i, position: 'bottom', ...xRange,
    name: 'Time', nameLocation: 'middle', nameGap: 19,
    nameTextStyle: { fontFamily: SERIF, fontSize: 20, color: LABEL_COLOR },
    axisLine: { show: true, onZero: false, lineStyle: axisLineStyle },
    axisTick: { show: true, inside: true, length: 5, lineStyle: axisLineStyle },
    axisLabel: { show: true, margin: 6, fontFamily: SANS, fontSize: 11, color: LABEL_COLOR,
                 showMaxLabel: p.xMax === p.xTicks[p.xTicks.length - 1] },
    splitLine: { show: false }
  });
  xAxes.push({
    type: 'value', gridIndex: i, position: 'top', ...xRange,
    axisLine: { show: true, onZero: false, lineStyle: axisLineStyle },
    axisTick: { show: true, inside: true, length: 5, lineStyle: axisLineStyle },
    axisLabel: { show: false }, splitLine: { show: false }
  });
  yAxes.push({
    type: 'value', gridIndex: i, position: 'left', ...yRange,
    name: '{u|\u016b}{s|i}{p|w,nw}', nameLocation: 'middle', nameGap: 22, nameRotate: 90,
    nameTextStyle: {
      rich: {
        u: { fontFamily: SERIF, fontStyle: 'italic', fontSize: 18, color: LABEL_COLOR },
        s: { fontFamily: SERIF, fontStyle: 'italic', fontSize: 12, color: LABEL_COLOR, padding: [8, 0, 0, 0] },
        p: { fontFamily: SERIF, fontStyle: 'italic', fontSize: 12, color: LABEL_COLOR, padding: [0, 0, 9, 0] }
      }
    },
    axisLine: { show: true, onZero: false, lineStyle: axisLineStyle },
    axisTick: { show: true, inside: true, length: 5, lineStyle: axisLineStyle },
    axisLabel: { show: true, margin: 6, fontFamily: SANS, fontSize: 11, color: LABEL_COLOR },
    splitLine: { show: false }
  });
  yAxes.push({
    type: 'value', gridIndex: i, position: 'right', ...yRange,
    axisLine: { show: true, onZero: false, lineStyle: axisLineStyle },
    axisTick: { show: true, inside: true, length: 5, lineStyle: axisLineStyle },
    axisLabel: { show: false }, splitLine: { show: false }
  });

  const names = [];
  seriesMeta.forEach((m, k) => {
    const name = p.id + '_' + m.key;
    names.push(name);
    series.push({
      type: 'line', name: name, xAxisIndex: 2 * i, yAxisIndex: 2 * i,
      data: p.data[k], symbol: 'none', showSymbol: false, clip: true,
      lineStyle: { color: m.color, width: m.dashed ? 1.3 : 2, type: m.dashed ? [4, 3] : 'solid' },
      itemStyle: { color: m.color },
      emphasis: { disabled: true },
      animation: false
    });
  });

  legends.push({
    orient: 'vertical', left: p.legend.left, top: p.legend.top,
    data: names, selectedMode: false,
    itemWidth: p.legend.itemWidth, itemHeight: 10, itemGap: p.legend.itemGap, itemTextGap: 4,
    padding: [3, 5, 3, 3],
    borderColor: '#1a1a1a', borderWidth: 1, backgroundColor: '#ffffff',
    itemStyle: { opacity: 0 },
    formatter: n => labelByKey[n.split('_')[1]],
    textStyle: {
      color: '#333',
      rich: {
        b: { fontFamily: SANS, fontSize: 11, color: '#333', lineHeight: 18 },
        sub: { fontFamily: SANS, fontSize: 8, color: '#333', lineHeight: 10, padding: [8, 0, 0, 0] },
        sup: { fontFamily: SANS, fontSize: 8, color: '#333', lineHeight: 10, padding: [0, 0, 8, 0] }
      }
    }
  });

  // Scale factors of the axes
  titles.push({
    text: '{m|\u00d710}{e|\u22124}', left: g.left, top: g.top - 7, textAlign: 'left',
    textVerticalAlign: 'middle', padding: 0, textStyle: { fontWeight: 'normal', rich: expRich }
  });
  titles.push({
    text: '{m|\u00d710}{e|' + p.xExp + '}', left: g.left + g.width, top: g.top + g.height + 29,
    textAlign: 'right', textVerticalAlign: 'middle', padding: 0, textStyle: { fontWeight: 'normal', rich: expRich }
  });
});

const chart = echarts.init(document.getElementById('chart'), null, { renderer: 'canvas' });
chart.setOption({
  backgroundColor: '#ffffff',
  animation: false,
  title: titles,
  grid: grids,
  xAxis: xAxes,
  yAxis: yAxes,
  legend: legends,
  series: series
});
</script>
</body>
</html>
